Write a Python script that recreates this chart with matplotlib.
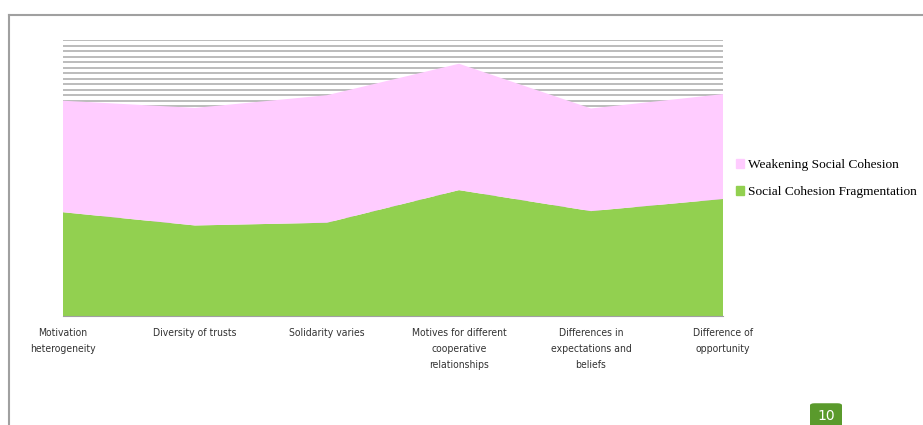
import matplotlib.pyplot as plt
import numpy as np
from matplotlib.patches import Patch, FancyBboxPatch
from matplotlib.lines import Line2D

# Chart data
categories = ["Motivation\nheterogeneity", "Diversity of trusts", "Solidarity varies",
              "Motives for different\ncooperative\nrelationships",
              "Differences in\nexpectations and\nbeliefs", "Difference of\nopportunity"]
fragmentation = [18.8, 16.4, 16.9, 22.8, 19.0, 21.2]
weakening = [20.2, 21.3, 23.1, 22.9, 18.6, 19.0]

green = "#92d050"
pink = "#ffccff"

fig = plt.figure(figsize=(9.23, 4.25), dpi=100)
ax = fig.add_axes([63 / 923, 109 / 425, 660 / 923, 276 / 425])

x = np.arange(len(categories))
ax.stackplot(x, fragmentation, weakening, colors=[green, pink], zorder=2)

# horizontal gridlines behind the areas
for yv in range(0, 51):
    ax.axhline(yv, color="#aaaaaa", lw=1.1, zorder=1)

ax.set_xlim(0, len(categories) - 1)
ax.set_ylim(0, 50)
ax.set_yticks([])
ax.set_xticks(x)
ax.set_xticklabels(categories, fontsize=7.5, color="#333333", linespacing=1.75,
                   family="DejaVu Sans", stretch="condensed")
ax.tick_params(axis="x", length=0, pad=9)
for s in ["top", "left", "right"]:
    ax.spines[s].set_visible(False)
ax.spines["bottom"].set_color("#a0a0a0")

handles = [Patch(color=pink, label="Weakening Social Cohesion"),
           Patch(color=green, label="Social Cohesion Fragmentation")]
fig.legend(handles=handles, loc="upper left", bbox_to_anchor=(724 / 923, 1 - 147 / 425),
           frameon=False, handlelength=0.6, handleheight=0.6, handletextpad=0.3,
           labelspacing=1.15, prop={"family": "Liberation Serif", "size": 9.6})

# slide frame
fig.add_artist(Line2D([9 / 923, 1], [1 - 15 / 425, 1 - 15 / 425], color="#a0a0a0", lw=1.5))
fig.add_artist(Line2D([9 / 923, 9 / 923], [0, 1 - 15 / 425], color="#a0a0a0", lw=1.5))

# page number badge
fig.add_artist(FancyBboxPatch((810 / 923, -0.01), 32 / 923, 26 / 425,
                              boxstyle="round,pad=0,rounding_size=0.005",
                              facecolor="#5a9a2c", edgecolor="none"))
fig.text(826 / 923, 9 / 425, "10", color="white", fontsize=10, ha="center", va="center")

fig.savefig("out.png", dpi=100)
